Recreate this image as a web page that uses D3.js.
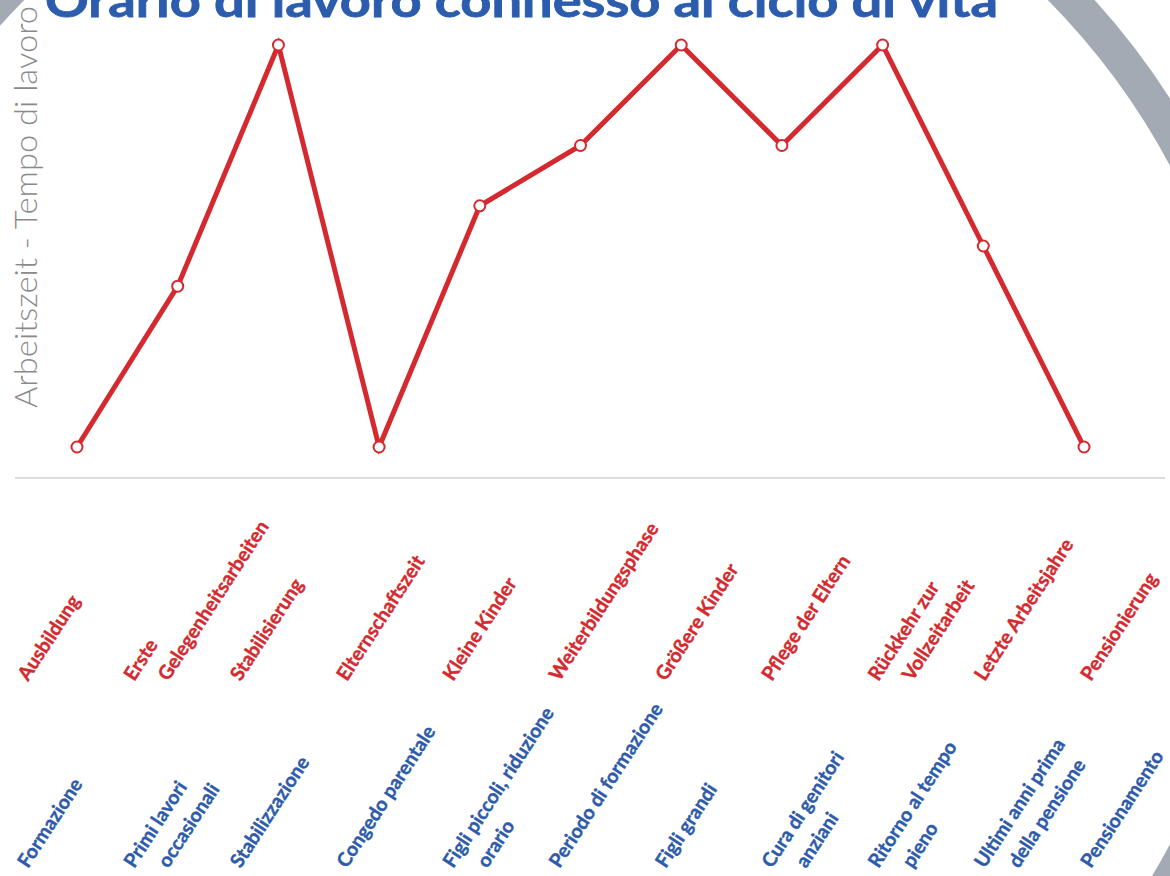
<!DOCTYPE html>
<html>
<head>
<meta charset="utf-8">
<script src="https://cdn.jsdelivr.net/npm/d3@7/dist/d3.min.js"></script>
<style>
  html, body { margin: 0; padding: 0; background: #fff; }
  svg { display: block; }
</style>
</head>
<body>
<svg id="chart" width="1170" height="876"></svg>
<script>
const title = "Orario di lavoro connesso al ciclo di vita";
const yAxisLabel = "Arbeitszeit - Tempo di lavoro";
const categoriesDe = [
  ["Ausbildung"], ["Erste", "Gelegenheitsarbeiten"], ["Stabilisierung"], ["Elternschaftszeit"],
  ["Kleine Kinder"], ["Weiterbildungsphase"], ["Größere Kinder"], ["Pflege der Eltern"],
  ["Rückkehr zur", "Vollzeitarbeit"], ["Letzte Arbeitsjahre"], ["Pensionierung"]
];
const categoriesIt = [
  ["Formazione"], ["Primi lavori", "occasionali"], ["Stabilizzazione"], ["Congedo parentale"],
  ["Figli piccoli, riduzione", "orario"], ["Periodo di formazione"], ["Figli grandi"],
  ["Cura di genitori", "anziani"], ["Ritorno al tempo", "pieno"],
  ["Ultimi anni prima", "della pensione"], ["Pensionamento"]
];
const values = [0, 4, 10, 0, 6, 7.5, 10, 7.5, 10, 5, 0];

const svg = d3.select("#chart");
const idx = d3.range(values.length);

const x = d3.scalePoint().domain(idx).range([77, 1084]);
const xLab = d3.scalePoint().domain(idx).range([28, 1091]);
const y = d3.scaleLinear().domain([0, 10]).range([447, 45]);

const RED = "#d42a2f";
const BLUE = "#2d5ba9";

// decorative arc
svg.append("circle")
  .attr("cx", 536).attr("cy", 505).attr("r", 736)
  .attr("fill", "none").attr("stroke", "#a3aab4").attr("stroke-width", 34);

// title
svg.append("text")
  .attr("x", 45).attr("y", 17)
  .attr("font-family", "Lato, 'Open Sans', sans-serif")
  .attr("font-weight", 700).attr("font-size", 46)
  .attr("fill", "#2b5cad").attr("stroke", "#2b5cad").attr("stroke-width", 0.8)
  .attr("textLength", 953).attr("lengthAdjust", "spacingAndGlyphs")
  .text(title);

// y label
svg.append("text")
  .attr("transform", "translate(37,408) rotate(-90)")
  .attr("font-family", "Lato, 'Open Sans', sans-serif")
  .attr("font-weight", 300).attr("font-size", 31)
  .attr("fill", "#8a8a8a")
  .attr("textLength", 402).attr("lengthAdjust", "spacingAndGlyphs")
  .text(yAxisLabel);

// baseline
svg.append("line")
  .attr("x1", 15).attr("x2", 1165).attr("y1", 478).attr("y2", 478)
  .attr("stroke", "#dcdcdc").attr("stroke-width", 2);

// line
const line = d3.line().x((d, i) => x(i)).y(d => y(d));
svg.append("path").datum(values)
  .attr("d", line).attr("fill", "none")
  .attr("stroke", RED).attr("stroke-width", 5).attr("stroke-linejoin", "miter");

svg.selectAll("circle.pt").data(values).join("circle")
  .attr("class", "pt")
  .attr("cx", (d, i) => x(i)).attr("cy", d => y(d)).attr("r", 5.5)
  .attr("fill", "#fff").attr("stroke", RED).attr("stroke-width", 2);

// labels
const ANGLE = -57;
function drawLabels(cats, baseY, color) {
  cats.forEach((lines, i) => {
    lines.forEach((t, k) => {
      svg.append("text")
        .attr("transform", `translate(${xLab(i) + k * 34},${baseY}) rotate(${ANGLE})`)
        .attr("font-family", "Lato, 'Open Sans', sans-serif")
        .attr("font-weight", 700).attr("font-size", 19.5)
        .attr("fill", color).attr("stroke", color).attr("stroke-width", 0.4)
        .text(t);
    });
  });
}
drawLabels(categoriesDe, 682, RED);
drawLabels(categoriesIt, 869, BLUE);
</script>
</body>
</html>
